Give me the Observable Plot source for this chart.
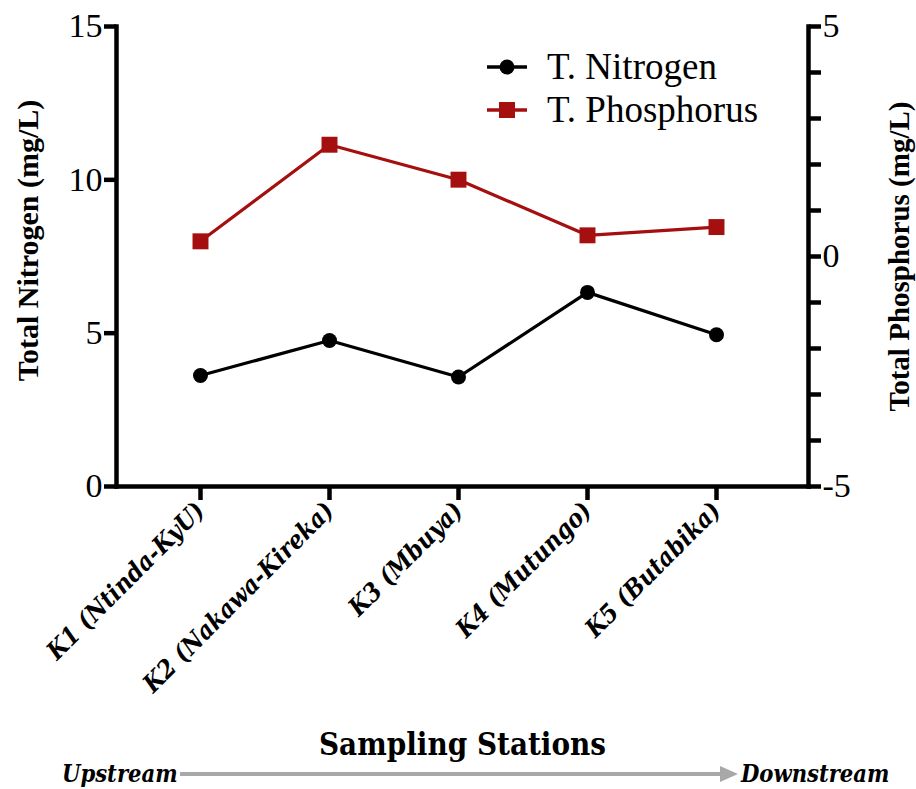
<!DOCTYPE html>
<html><head><meta charset="utf-8">
<script src="https://cdn.jsdelivr.net/npm/d3@7"></script>
<script src="https://cdn.jsdelivr.net/npm/@observablehq/plot@0.6"></script>
<style>
body{margin:0;background:#fff;}
#wrap{position:relative;width:916px;height:789px;overflow:hidden;}
#legend{position:absolute;left:485px;top:45px;font-family:"Liberation Serif",serif;font-size:37px;color:#000;}
#legend .row{display:flex;align-items:center;height:43px;}
#legend svg{margin-right:18px;}
#flow{position:absolute;left:0;top:759px;width:916px;height:30px;font-family:"DejaVu Serif Condensed","DejaVu Serif",serif;font-weight:bold;font-style:italic;font-size:23.5px;}
#flow span{position:absolute;top:0;line-height:30px;}
</style></head><body><div id="wrap"></div><script>
const stations = ["K1 (Ntinda-KyU)", "K2 (Nakawa-Kireka)", "K3 (Mbuya)", "K4 (Mutungo)", "K5 (Butabika)"];
const nitrogen = [3.62, 4.76, 3.57, 6.33, 4.95];
const phosphorus = [0.33, 2.43, 1.67, 0.46, 0.64];
const nDomain = [0, 15];
const pDomain = [-5, 5];
const leftTicks = [0, 5, 10, 15];
const rightTicks = [-5, -4, -3, -2, -1, 0, 1, 2, 3, 4, 5];
const rightLabels = [-5, 0, 5];
const seriesNames = ["T. Nitrogen", "T. Phosphorus"];
const colors = ["#000000", "#a50f0f"];

const toN = p => (p - pDomain[0]) / (pDomain[1] - pDomain[0]) * (nDomain[1] - nDomain[0]) + nDomain[0];
const toP = n => (n - nDomain[0]) / (nDomain[1] - nDomain[0]) * (pDomain[1] - pDomain[0]) + pDomain[0];

const nData = stations.map((s, i) => ({station: s, v: nitrogen[i]}));
const pData = stations.map((s, i) => ({station: s, v: toN(phosphorus[i])}));

const serif = "Liberation Serif, Times New Roman, serif";
const cond = "DejaVu Serif Condensed, DejaVu Serif, serif";

const chart = Plot.plot({
  width: 916,
  height: 789,
  marginLeft: 116,
  marginRight: 108,
  marginTop: 26,
  marginBottom: 303,
  style: {background: "#fff", color: "#000", overflow: "visible"},
  x: {type: "point", domain: stations, padding: 0.67, align: 0.48},
  y: {domain: nDomain},
  marks: [
    Plot.frame({anchor: "left", strokeWidth: 4.5}),
    Plot.frame({anchor: "right", strokeWidth: 4.5}),
    Plot.frame({anchor: "bottom", strokeWidth: 4.5}),
    Plot.axisY({anchor: "left", ticks: leftTicks, tickSize: 12, strokeWidth: 4.5, tickPadding: 2,
      fontSize: 34, fontFamily: serif, label: null}),
    Plot.axisY({anchor: "right", ticks: rightTicks.map(toN), tickSize: 12, strokeWidth: 4.5, tickPadding: 2,
      tickFormat: v => { const p = Math.round(toP(v)); return rightLabels.includes(p) ? String(p) : ""; },
      fontSize: 34, fontFamily: serif, label: null}),
    Plot.axisX({tickSize: 14, strokeWidth: 4.5, tickRotate: -45, tickPadding: 6,
      fontSize: 25, fontFamily: cond, fontWeight: "bold", fontStyle: "italic", label: null}),
    Plot.line(pData, {x: "station", y: "v", stroke: colors[1], strokeWidth: 3.2}),
    Plot.dot(pData, {x: "station", y: "v", symbol: "square", r: 9, fill: colors[1], stroke: "none"}),
    Plot.line(nData, {x: "station", y: "v", stroke: colors[0], strokeWidth: 3.2}),
    Plot.dot(nData, {x: "station", y: "v", r: 7.5, fill: colors[0], stroke: "none"}),
    Plot.text(["Total Nitrogen (mg/L)"], {frameAnchor: "left", textAnchor: "middle", text: d => d, rotate: -90,
      dx: -88, dy: -16, fontSize: 30, fontWeight: "bold", fontFamily: serif}),
    Plot.text(["Total Phosphorus (mg/L)"], {frameAnchor: "right", textAnchor: "middle", text: d => d, rotate: -90,
      dx: 91, dy: 0, fontSize: 29, fontWeight: "bold", fontFamily: serif}),
    Plot.text(["Sampling Stations"], {frameAnchor: "bottom", text: d => d, dy: 268,
      fontSize: 31, fontWeight: "bold", fontFamily: cond})
  ]
});

const wrap = document.getElementById("wrap");
wrap.appendChild(chart);

// legend
const legend = document.createElement("div");
legend.id = "legend";
seriesNames.forEach((name, i) => {
  const row = document.createElement("div");
  row.className = "row";
  const marker = i === 0
    ? `<circle cx="22" cy="10" r="7.5" fill="${colors[i]}"/>`
    : `<rect x="14" y="2" width="16" height="16" fill="${colors[i]}"/>`;
  row.innerHTML = `<svg width="44" height="20"><line x1="2" x2="42" y1="10" y2="10" stroke="${colors[i]}" stroke-width="3.5"/>${marker}</svg><span>${name}</span>`;
  legend.appendChild(row);
});
wrap.appendChild(legend);

// upstream/downstream arrow
const flow = document.createElement("div");
flow.id = "flow";
flow.innerHTML = `<span style="left:62px">Upstream</span>
<svg style="position:absolute;left:0;top:0" width="916" height="30">
<line x1="180" x2="722" y1="15" y2="15" stroke="#a8a8a8" stroke-width="4"/>
<polygon points="720,7 738,15 720,23" fill="#a8a8a8"/></svg>
<span style="left:741px">Downstream</span>`;
wrap.appendChild(flow);
</script></body></html>
